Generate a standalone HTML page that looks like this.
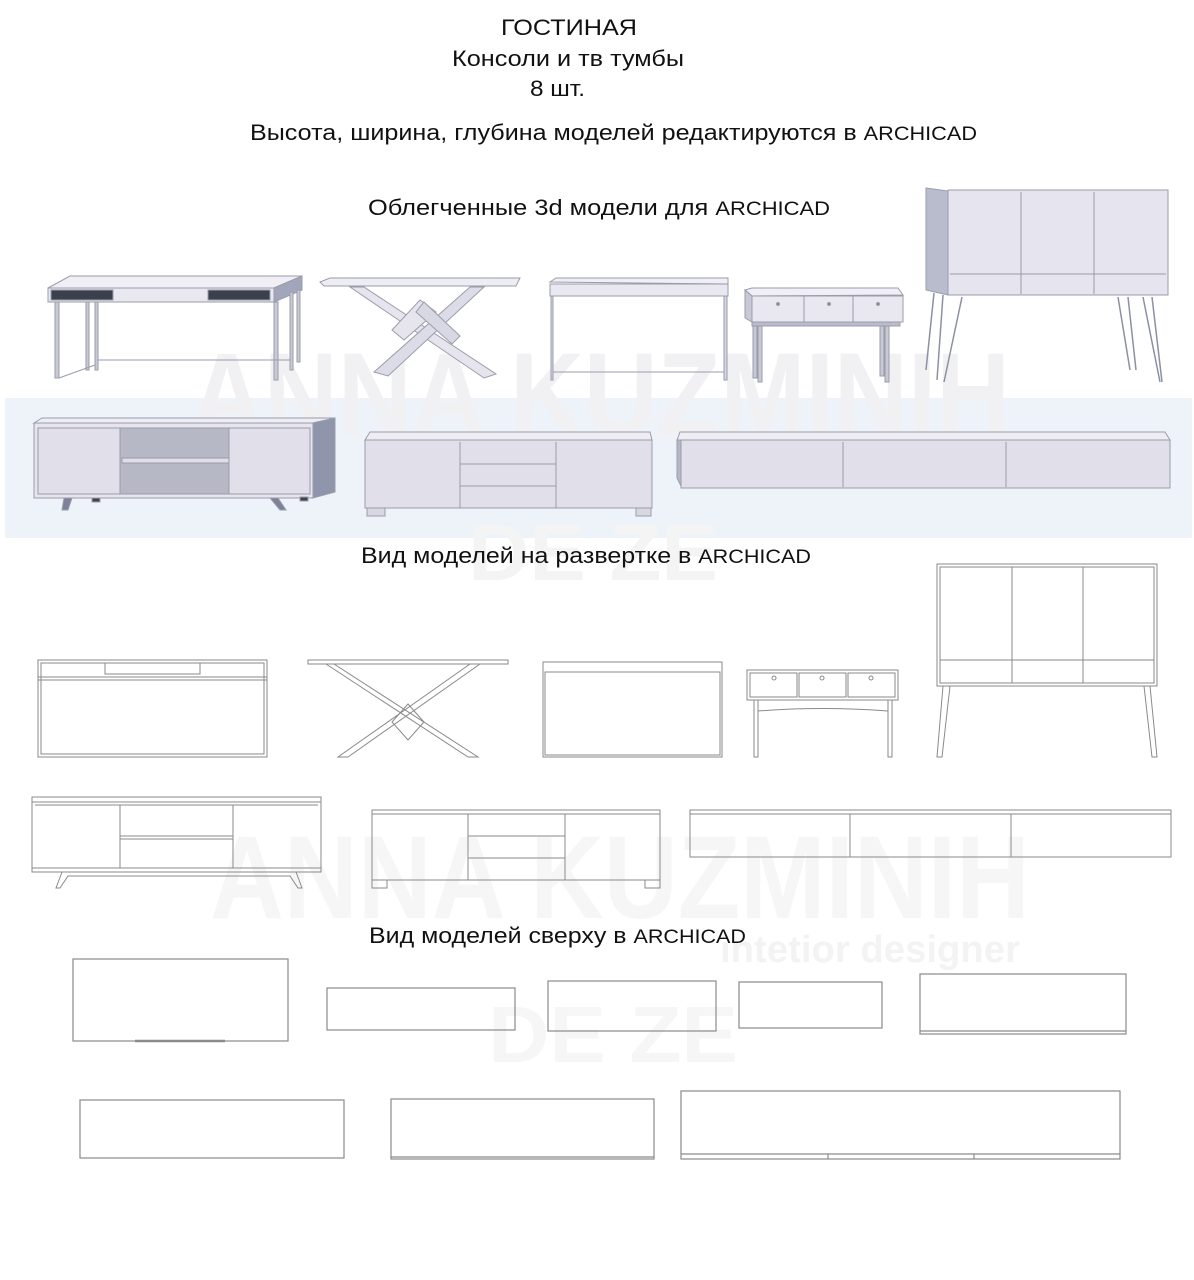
<!DOCTYPE html>
<html><head><meta charset="utf-8">
<style>
html,body{margin:0;padding:0;background:#fff;}
svg{display:block;}
text{font-family:"Liberation Sans",sans-serif;fill:#111;}
</style></head>
<body>
<svg width="1194" height="1280" viewBox="0 0 1194 1280" xmlns="http://www.w3.org/2000/svg">
<rect x="5" y="398" width="1187" height="140" fill="#eef3fa"/>
<g style="font-family:'Liberation Sans',sans-serif;font-weight:bold">
<text x="190" y="435" font-size="118" textLength="820" lengthAdjust="spacingAndGlyphs" style="fill:#f1f1f3">ANNA KUZMINIH</text>
<text x="700" y="478" font-size="38" textLength="300" lengthAdjust="spacingAndGlyphs" style="fill:#e6e8ee">intetior designer</text>
<text x="468" y="580" font-size="80" textLength="250" lengthAdjust="spacingAndGlyphs" style="fill:#f4f4f4">DE ZE</text>
<text x="210" y="918" font-size="118" textLength="820" lengthAdjust="spacingAndGlyphs" style="fill:#f6f6f6">ANNA KUZMINIH</text>
<text x="720" y="962" font-size="38" textLength="300" lengthAdjust="spacingAndGlyphs" style="fill:#f3f3f3">intetior designer</text>
<text x="488" y="1062" font-size="80" textLength="250" lengthAdjust="spacingAndGlyphs" style="fill:#f6f6f6">DE ZE</text>
</g>

<text x="501" y="35" font-size="22" textLength="136" lengthAdjust="spacingAndGlyphs">ГОСТИНАЯ</text>
<text x="452" y="66" font-size="22" textLength="232" lengthAdjust="spacingAndGlyphs">Консоли и тв тумбы</text>
<text x="530" y="96" font-size="22" textLength="55" lengthAdjust="spacingAndGlyphs">8 шт.</text>
<text x="250" y="140" font-size="22" textLength="727" lengthAdjust="spacingAndGlyphs">Высота, ширина, глубина моделей редактируются в <tspan font-size="19">ARCHICAD</tspan></text>
<text x="368" y="215" font-size="22" textLength="462" lengthAdjust="spacingAndGlyphs">Облегченные 3d модели для  <tspan font-size="19">ARCHICAD</tspan></text>
<text x="361" y="563" font-size="22" textLength="450" lengthAdjust="spacingAndGlyphs">Вид моделей на развертке в <tspan font-size="19">ARCHICAD</tspan></text>
<text x="369" y="943" font-size="22" textLength="377" lengthAdjust="spacingAndGlyphs">Вид моделей сверху в <tspan font-size="19">ARCHICAD</tspan></text>

<g stroke="#9a9cab" stroke-width="1">
<polygon points="48,288 70,276 302,276 274,288" fill="#f0eff5"/>
<rect x="48" y="288" width="226" height="14" fill="#e9e8f0"/>
<polygon points="274,288 302,276 302,290 274,302" fill="#a2a6ba"/>
<rect x="51" y="290" width="62" height="10" fill="#3c3f4c"/>
<rect x="208" y="290" width="62" height="10" fill="#3c3f4c"/>
<g fill="#c9cad6"><rect x="55" y="302" width="4" height="76"/><rect x="86" y="302" width="3" height="68"/><rect x="95" y="302" width="3" height="68"/><rect x="274" y="302" width="4" height="78"/><rect x="290" y="292" width="3" height="78"/><rect x="297" y="290" width="3" height="72"/></g>
<line x1="59" y1="378" x2="95" y2="365" fill="none"/><line x1="98" y1="360" x2="290" y2="360" fill="none"/>
<polygon points="320,282 330,278 520,278 516,286 324,286" fill="#eeedf4"/>
<polygon points="350,287 364,287 496,374 484,378" fill="#e6e5ee"/>
<polygon points="470,287 484,287 388,376 374,372" fill="#dcdce8"/>
<polygon points="420,300 436,312 404,340 392,330" fill="#e6e5ee"/>
<polygon points="424,302 460,336 452,344 416,312" fill="#d8d8e4"/>
<polygon points="550,282 556,278 728,278 728,284" fill="#f0eff5"/>
<rect x="550" y="284" width="178" height="12" fill="#e9e8f0"/>
<g fill="#d6d6e2"><rect x="551" y="296" width="2" height="84"/><rect x="724" y="296" width="3" height="84"/></g>
<line x1="553" y1="372" x2="724" y2="372"/>
<polygon points="745,290 752,288 898,288 903,295 752,296" fill="#f0eff5"/>
<rect x="752" y="296" width="151" height="26" fill="#e9e8f0"/>
<polygon points="745,290 752,296 752,322 745,318" fill="#c8c9d6"/>
<line x1="804" y1="296" x2="804" y2="322"/><line x1="853" y1="296" x2="853" y2="322"/>
<rect x="752" y="322" width="148" height="4" fill="#b9bccc"/>
<g fill="#c8c9d6"><rect x="753" y="326" width="4" height="52"/><rect x="758" y="326" width="4" height="56"/><rect x="880" y="326" width="4" height="50"/><rect x="885" y="326" width="4" height="56"/></g>
<circle cx="778" cy="304" r="1.5" fill="#888"/><circle cx="829" cy="304" r="1.5" fill="#888"/><circle cx="878" cy="304" r="1.5" fill="#888"/>
<polygon points="926,188 948,191 948,295 926,290" fill="#b8bccd"/>
<rect x="948" y="190" width="220" height="105" fill="#e6e4ef"/>
<line x1="1021" y1="192" x2="1021" y2="294"/><line x1="1094" y1="192" x2="1094" y2="294"/><line x1="950" y1="274" x2="1166" y2="274"/>
<g stroke="#8c90a4" stroke-width="1.5" fill="none"><line x1="934" y1="293" x2="926" y2="370"/><line x1="943" y1="295" x2="937" y2="380"/><line x1="962" y1="297" x2="944" y2="382"/><line x1="1118" y1="297" x2="1130" y2="370"/><line x1="1128" y1="297" x2="1136" y2="370"/><line x1="1143" y1="297" x2="1160" y2="382"/><line x1="1152" y1="297" x2="1162" y2="382"/></g>
<polygon points="34,423 42,418 335,418 313,423" fill="#eeedf4"/>
<rect x="34" y="423" width="279" height="75" fill="#e6e5ee"/>
<polygon points="313,423 335,418 335,492 313,498" fill="#8f95aa"/>
<rect x="120" y="428" width="109" height="66" fill="#b7b8c6"/>
<rect x="122" y="458" width="107" height="5" fill="#dedde8"/>
<rect x="38" y="428" width="82" height="66" fill="#e1e0ea"/><rect x="229" y="428" width="81" height="66" fill="#e1e0ea"/>
<polygon points="64,498 72,498 68,510 62,510" fill="#7d8296"/><polygon points="270,498 278,498 286,510 280,510" fill="#7d8296"/>
<rect x="92" y="498" width="8" height="4" fill="#444"/><rect x="300" y="497" width="8" height="4" fill="#444"/>
<polygon points="365,440 370,432 650,432 652,440" fill="#eeedf4"/>
<rect x="365" y="440" width="287" height="68" fill="#e1e0ea"/>
<line x1="460" y1="442" x2="460" y2="508"/><line x1="556" y1="442" x2="556" y2="508"/>
<line x1="460" y1="464" x2="556" y2="464"/><line x1="460" y1="486" x2="556" y2="486"/>
<rect x="367" y="508" width="18" height="8" fill="#d8d8e2"/><rect x="636" y="508" width="15" height="8" fill="#d8d8e2"/>
<polygon points="677,440 680,432 1165,432 1170,440" fill="#eeedf4"/>
<polygon points="677,440 681,440 681,486 677,478" fill="#b5b8c8"/>
<rect x="681" y="440" width="489" height="48" fill="#e1e0ea"/>
<line x1="843" y1="442" x2="843" y2="487"/><line x1="1006" y1="442" x2="1006" y2="487"/>
</g>

<g stroke="#8a8a8a" stroke-width="1" fill="none">
<rect x="38" y="660" width="229" height="97"/><rect x="41" y="663" width="223" height="91"/>
<line x1="38" y1="677" x2="267" y2="677"/><line x1="38" y1="680" x2="267" y2="680"/>
<rect x="105" y="663" width="95" height="11"/>
<rect x="308" y="660" width="200" height="4"/>
<polyline points="334,664 478,757 468,757 326,664"/>
<polyline points="470,664 338,757 348,757 480,664"/>
<polygon points="408,704 424,722 408,740 392,722"/>
<rect x="543" y="662" width="179" height="95"/><rect x="545" y="672" width="175" height="83"/>
<rect x="747" y="670" width="151" height="30"/>
<rect x="750" y="673" width="47" height="24"/><rect x="799" y="673" width="47" height="24"/><rect x="848" y="673" width="47" height="24"/>
<circle cx="774" cy="678" r="2"/><circle cx="822" cy="678" r="2"/><circle cx="871" cy="678" r="2"/>
<polyline points="754,700 754,757 758,757 758,700"/><polyline points="888,700 888,757 892,757 892,700"/>
<path d="M758,711 Q822,706 888,711"/>
<rect x="937" y="564" width="220" height="122"/><rect x="940" y="567" width="214" height="116"/>
<line x1="1012" y1="567" x2="1012" y2="683"/><line x1="1083" y1="567" x2="1083" y2="683"/>
<line x1="940" y1="660" x2="1154" y2="660"/>
<polyline points="943,686 937,757 942,757 950,686"/><polyline points="1144,686 1152,757 1157,757 1150,686"/>
<rect x="32" y="797" width="289" height="75"/><line x1="32" y1="802" x2="321" y2="802"/><line x1="35" y1="805" x2="318" y2="805"/>
<line x1="32" y1="868" x2="321" y2="868"/>
<line x1="120" y1="805" x2="120" y2="868"/><line x1="233" y1="805" x2="233" y2="868"/>
<line x1="120" y1="836" x2="233" y2="836"/><line x1="120" y1="839" x2="233" y2="839"/>
<polyline points="62,872 56,888 60,888 68,876 290,876 298,888 302,888 296,872"/>
<rect x="372" y="810" width="288" height="70"/><line x1="372" y1="814" x2="660" y2="814"/>
<line x1="468" y1="814" x2="468" y2="880"/><line x1="565" y1="814" x2="565" y2="880"/>
<line x1="468" y1="836" x2="565" y2="836"/><line x1="468" y1="858" x2="565" y2="858"/>
<rect x="372" y="880" width="15" height="8"/><rect x="645" y="880" width="15" height="8"/>
<rect x="690" y="810" width="481" height="47"/><line x1="690" y1="814" x2="1171" y2="814"/>
<line x1="850" y1="814" x2="850" y2="857"/><line x1="1011" y1="814" x2="1011" y2="857"/>
</g>

<g stroke="#8a8a8a" stroke-width="1.2" fill="none">
<rect x="73" y="959" width="215" height="82"/><line x1="135" y1="1041" x2="225" y2="1041" stroke-width="2.5"/>
<rect x="327" y="988" width="188" height="42"/>
<rect x="548" y="981" width="168" height="50"/>
<rect x="739" y="982" width="143" height="46"/>
<rect x="920" y="974" width="206" height="60"/><line x1="920" y1="1031" x2="1126" y2="1031"/>
<rect x="80" y="1100" width="264" height="58"/>
<rect x="391" y="1099" width="263" height="60"/><line x1="391" y1="1157" x2="654" y2="1157"/>
<rect x="681" y="1091" width="439" height="68"/><line x1="681" y1="1154" x2="1120" y2="1154"/>
<line x1="828" y1="1154" x2="828" y2="1159"/><line x1="974" y1="1154" x2="974" y2="1159"/>
</g>
</svg>
</body></html>
